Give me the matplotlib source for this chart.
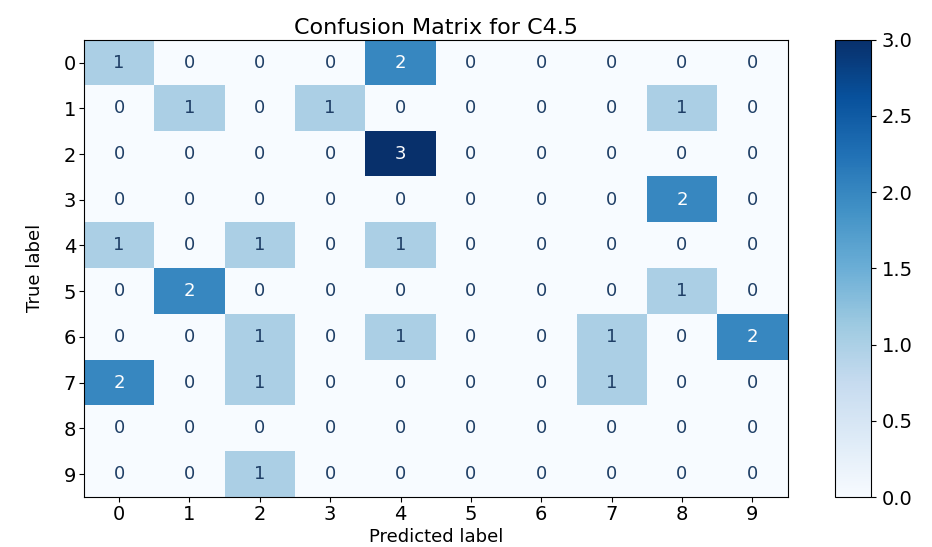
import numpy as np
import matplotlib.pyplot as plt

# 数据
classes = [str(i) for i in range(10)]
cm = np.array([
    [1, 0, 0, 0, 2, 0, 0, 0, 0, 0],
    [0, 1, 0, 1, 0, 0, 0, 0, 1, 0],
    [0, 0, 0, 0, 3, 0, 0, 0, 0, 0],
    [0, 0, 0, 0, 0, 0, 0, 0, 2, 0],
    [1, 0, 1, 0, 1, 0, 0, 0, 0, 0],
    [0, 2, 0, 0, 0, 0, 0, 0, 1, 0],
    [0, 0, 1, 0, 1, 0, 0, 1, 0, 2],
    [2, 0, 1, 0, 0, 0, 0, 1, 0, 0],
    [0, 0, 0, 0, 0, 0, 0, 0, 0, 0],
    [0, 0, 1, 0, 0, 0, 0, 0, 0, 0],
])
title = 'Confusion Matrix for C4.5'

fig = plt.figure(figsize=(9.32, 5.47), dpi=100)
ax = fig.add_axes([0.090, 0.0914, 0.755, 0.836])
cax = fig.add_axes([0.896, 0.0914, 0.0386, 0.836])

cmap = plt.cm.Blues
im = ax.imshow(cm, interpolation='nearest', cmap=cmap, aspect='auto', vmin=0, vmax=3)
ax.set_title(title, fontsize=16, pad=4)
cb = fig.colorbar(im, cax=cax)
cb.set_ticks([0.0, 0.5, 1.0, 1.5, 2.0, 2.5, 3.0])
cb.ax.tick_params(labelsize=14, pad=4)

ax.set_xticks(range(len(classes)))
ax.set_xticklabels(classes)
ax.set_yticks(range(len(classes)))
ax.set_yticklabels(classes)
ax.tick_params(labelsize=14, pad=2)

# 单元格数字
thresh = cm.max() / 2.0
for i in range(cm.shape[0]):
    for j in range(cm.shape[1]):
        ax.text(j, i, format(cm[i, j], 'd'), ha='center', va='center', fontsize=13,
                color='white' if cm[i, j] > thresh else '#1f3f66')

ax.set_ylabel('True label', fontsize=13, labelpad=14)
ax.set_xlabel('Predicted label', fontsize=13, labelpad=3)

fig.savefig('out.png', dpi=100)
